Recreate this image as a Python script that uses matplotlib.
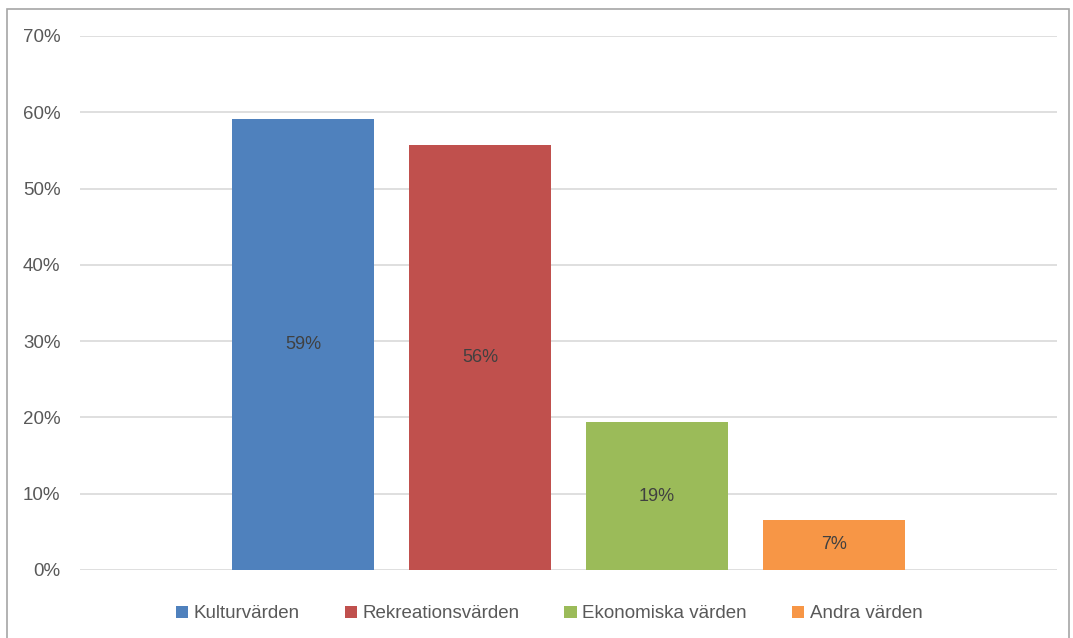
import matplotlib
matplotlib.use("Agg")
import matplotlib.pyplot as plt
from matplotlib.patches import Rectangle, Patch
from matplotlib.ticker import PercentFormatter

kategorier = ["Kulturvärden", "Rekreationsvärden", "Ekonomiska värden", "Andra värden"]
andelar = [59.1, 55.7, 19.4, 6.6]
etiketter = ["59%", "56%", "19%", "7%"]
farger = ["#4F81BD", "#C0504D", "#9BBB59", "#F79646"]

plt.rcParams["font.family"] = ["Liberation Sans", "DejaVu Sans"]
textfarg = "#595959"

fig = plt.figure(figsize=(10.73, 6.38), dpi=100)
ax = fig.add_axes([80 / 1073, 1 - 570 / 638, 977 / 1073, 534 / 638])

pos = list(range(len(kategorier)))
bars = ax.bar(pos, andelar, width=0.8, color=farger, zorder=3)
for b, txt in zip(bars, etiketter):
    ax.text(b.get_x() + b.get_width() / 2, b.get_height() / 2, txt,
            ha="center", va="center", fontsize=13, color="#404040", zorder=4)

ax.set_xlim(-1.26, 4.26)
ax.set_ylim(0, 70)
ax.set_yticks(range(0, 71, 10))
ax.yaxis.set_major_formatter(PercentFormatter(decimals=0))
ax.set_xticks([])
ax.grid(axis="y", color="#D9D9D9", linewidth=1.2, zorder=0)
for s in ax.spines.values():
    s.set_visible(False)
ax.tick_params(axis="y", length=0, pad=14, labelsize=13.5, labelcolor=textfarg)

handles = [Patch(facecolor=c, edgecolor="none") for c in farger]
fig.legend(handles, kategorier, loc="center", bbox_to_anchor=(549 / 1073, 1 - 614 / 638),
           ncol=4, frameon=False, fontsize=13.5, labelcolor=textfarg,
           handlelength=0.65, handleheight=0.65, handletextpad=0.3, columnspacing=2.4)

# ram runt diagrammet
fig.patches.append(Rectangle((7 / 1073, -0.01), 1062 / 1073, 1 - 9 / 638 + 0.01,
                             transform=fig.transFigure, fill=False,
                             edgecolor="#A6A6A6", linewidth=1.2))

fig.savefig("out.png", dpi=100)
